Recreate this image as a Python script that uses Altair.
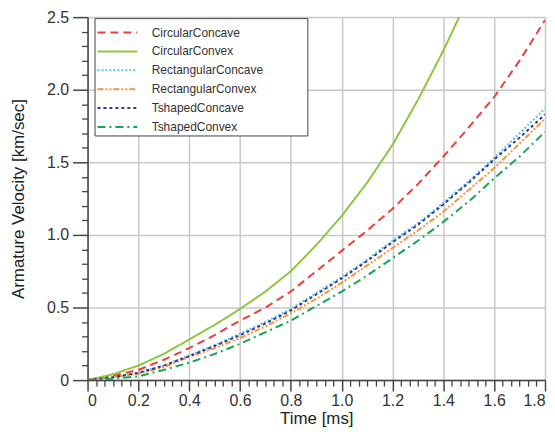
import altair as alt
import pandas as pd

series = ["CircularConcave", "CircularConvex", "RectangularConcave",
          "RectangularConvex", "TshapedConcave", "TshapedConvex"]
colors = ["#e8403a", "#8dc63f", "#5bc0eb", "#f7953b", "#2b3a9b", "#17a556"]
dashes = [[8, 5], [1, 0], [2, 2], [6, 2, 2, 2, 2, 2], [3, 3], [8, 4, 2, 4]]

t = [0.0, 0.1, 0.2, 0.3, 0.4, 0.5, 0.6, 0.7, 0.8, 0.9,
     1.0, 1.1, 1.2, 1.3, 1.4, 1.5, 1.6, 1.7, 1.8]

circ_concave = [0.0, 0.03, 0.07, 0.14, 0.22, 0.31, 0.41, 0.50, 0.61, 0.75,
                0.89, 1.03, 1.18, 1.35, 1.54, 1.74, 1.95, 2.20, 2.48]
t_circ_convex = [0.0, 0.1, 0.2, 0.3, 0.4, 0.5, 0.6, 0.7, 0.8, 0.9,
                 1.0, 1.1, 1.2, 1.3, 1.4, 1.5]
circ_convex = [0.0, 0.04, 0.10, 0.18, 0.28, 0.38, 0.49, 0.61, 0.75, 0.93,
               1.13, 1.36, 1.62, 1.93, 2.27, 2.64]
rect_concave = [0.0, 0.02, 0.05, 0.10, 0.17, 0.24, 0.32, 0.40, 0.49, 0.60,
                0.71, 0.83, 0.96, 1.08, 1.22, 1.37, 1.53, 1.70, 1.87]
rect_convex = [0.0, 0.02, 0.045, 0.09, 0.16, 0.22, 0.29, 0.37, 0.46, 0.56,
               0.67, 0.79, 0.91, 1.03, 1.16, 1.31, 1.46, 1.63, 1.80]
t_concave = [0.0, 0.02, 0.05, 0.10, 0.165, 0.235, 0.31, 0.39, 0.48, 0.59,
             0.70, 0.82, 0.95, 1.07, 1.21, 1.36, 1.52, 1.67, 1.83]
t_convex = [0.0, 0.01, 0.025, 0.07, 0.12, 0.18, 0.25, 0.33, 0.41, 0.51,
            0.61, 0.72, 0.84, 0.96, 1.09, 1.23, 1.39, 1.54, 1.71]

# tick positions: majors every 0.2 ms / 0.5 km/s, minors between them
x_ticks = [i / 30 for i in range(55)]
y_ticks = [i / 10 for i in range(26)]

rows = []
for name, ts, vs in [
    ("CircularConcave", t, circ_concave),
    ("CircularConvex", t_circ_convex, circ_convex),
    ("RectangularConcave", t, rect_concave),
    ("RectangularConvex", t, rect_convex),
    ("TshapedConcave", t, t_concave),
    ("TshapedConvex", t, t_convex),
]:
    for a, b in zip(ts, vs):
        rows.append({"series": name, "t": a, "v": b})
df = pd.DataFrame(rows)

FONT = "Liberation Sans"
XMAJ = "abs(datum.value * 5 - round(datum.value * 5)) < 0.001"
YMAJ = "abs(datum.value * 2 - round(datum.value * 2)) < 0.001"

xaxis = alt.Axis(
    values=x_ticks, title="Time [ms]", orient="bottom", labelOverlap=False,
    labelExpr=f"({XMAJ}) ? (datum.value == 0 ? '0' : format(datum.value, '.1f')) : ''",
    labelFontSize=16, labelFont=FONT, labelColor="#333",
    titleFontSize=17, titleFont=FONT, titleFontWeight="normal", titleColor="#222",
    titlePadding=2, tickColor="#444", domainColor="#444", domainWidth=1.5,
    labelPadding=2,
    tickSize={"condition": {"test": XMAJ, "value": 11}, "value": 6},
    tickWidth={"condition": {"test": XMAJ, "value": 1.5}, "value": 1.3},
    grid=True, gridColor="#c8c8c8", gridWidth=1.5,
    gridOpacity={"condition": {"test": XMAJ, "value": 1}, "value": 0},
)
yaxis = alt.Axis(
    values=y_ticks, title="Armature Velocity [km/sec]", orient="left", labelOverlap=False,
    labelExpr=f"({YMAJ}) ? (datum.value == 0 ? '0' : format(datum.value, '.1f')) : ''",
    labelFontSize=16, labelFont=FONT, labelColor="#333",
    titleFontSize=17, titleFont=FONT, titleFontWeight="normal", titleColor="#222",
    titlePadding=19, tickColor="#444", domainColor="#444", domainWidth=1.5,
    labelPadding=4,
    tickSize={"condition": {"test": YMAJ, "value": 15}, "value": 6},
    tickWidth={"condition": {"test": YMAJ, "value": 1.5}, "value": 1.3},
    grid=True, gridColor="#c8c8c8", gridWidth=1.5,
    gridOpacity={"condition": {"test": YMAJ, "value": 1}, "value": 0},
)

legend = alt.Legend(
    title="MMMM", titleOrient="right", titleFontSize=12,
    titlePadding=2, titleFont=FONT, titleColor="white", titleOpacity=0,
    orient="none", legendX=7, legendY=1,
    symbolType="M-1.74,0H1.74", symbolSize=529, symbolOffset=8.5,
    symbolStrokeWidth=2,
    labelFontSize=12, labelFont=FONT, labelColor="#333",
    padding=2, strokeColor="#444", fillColor="white",
    labelOffset=22, rowPadding=0,
)

chart = alt.Chart(df).mark_line(strokeWidth=2, clip=True).encode(
    x=alt.X("t:Q", scale=alt.Scale(domain=[0, 1.8], nice=False, zero=False), axis=xaxis),
    y=alt.Y("v:Q", scale=alt.Scale(domain=[0, 2.5], nice=False), axis=yaxis),
    color=alt.Color("series:N", scale=alt.Scale(domain=series, range=colors), legend=legend),
    strokeDash=alt.StrokeDash("series:N", scale=alt.Scale(domain=series, range=dashes), legend=legend),
    detail="series:N",
).properties(
    width=460, height=365,
    autosize=alt.AutoSizeParams(type="none"),
    padding={"left": 80, "top": 8, "right": 2, "bottom": 48},
).configure_view(stroke="#444", strokeWidth=1.5).configure(background="white")

chart.save("out.html", embed_options={"renderer": "svg", "actions": False})
